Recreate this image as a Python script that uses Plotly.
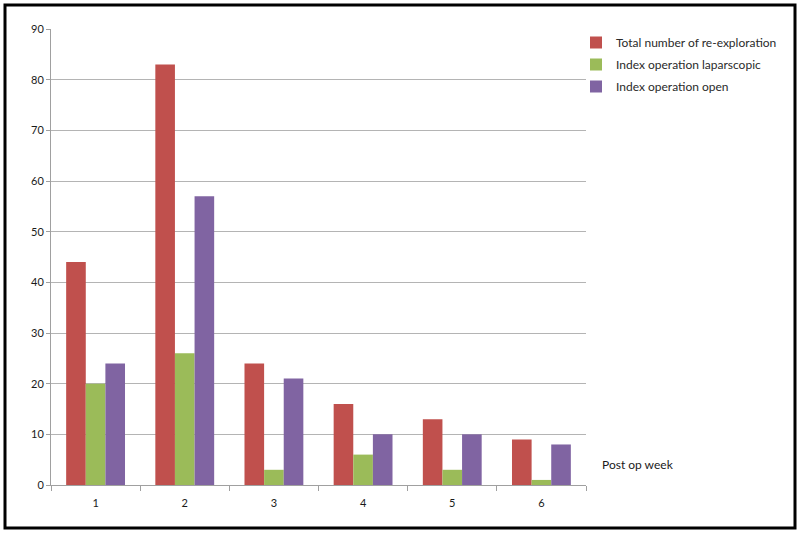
import plotly.graph_objects as go

weeks = ["1", "2", "3", "4", "5", "6"]
total = [44, 83, 24, 16, 13, 9]
laparoscopic = [20, 26, 3, 6, 3, 1]
open_op = [24, 57, 21, 10, 10, 8]
series_names = ["Total number of re-exploration", "Index operation laparscopic", "Index operation open"]
colors = ["#C0504D", "#9BBB59", "#8064A2"]

fig = go.Figure()
for i, (name, vals, col) in enumerate(zip(series_names, [total, laparoscopic, open_op], colors)):
    fig.add_trace(go.Bar(x=weeks, y=vals, name=name, legendgroup=f"g{i}",
                         marker=dict(color=col, line=dict(width=0))))

L, R, T, B = 51, 214, 29, 49
W, H = 800, 534
pw, ph = W - L - R, H - T - B

def px(x):
    return (x - L) / pw

def py(y):
    return (H - B - y) / ph

fig.update_layout(
    width=W, height=H,
    margin=dict(l=L, r=R, t=T, b=B),
    paper_bgcolor="white", plot_bgcolor="white",
    barmode="group", bargap=0.34, bargroupgap=0,
    font=dict(family="Lato, Open Sans, sans-serif", size=11, color="#1a1a1a"),
    legend=dict(x=px(576), y=py(28), xanchor="left", yanchor="top",
                font=dict(size=12, color="#2a2a2a"), traceorder="grouped",
                tracegroupgap=3, itemwidth=30, bgcolor="rgba(0,0,0,0)"),
    xaxis=dict(type="category", showline=True, linecolor="#A0A0A0", linewidth=1,
               ticks="outside", tickson="boundaries", ticklen=5, tickcolor="#A0A0A0",
               ticklabelstandoff=8,
               showgrid=False, tickfont=dict(size=11, color="#1a1a1a")),
    yaxis=dict(range=[0, 90], dtick=10, showline=True, linecolor="#A0A0A0", linewidth=1,
               ticks="outside", ticklen=4, tickcolor="#A0A0A0",
               showgrid=True, gridcolor="#B4B4B4", gridwidth=1, zeroline=False,
               tickfont=dict(size=11, color="#1a1a1a")),
    annotations=[dict(text="Post op week", xref="paper", yref="paper",
                      x=px(600), y=py(464), xanchor="left", yanchor="middle",
                      showarrow=False, font=dict(size=12, color="#1a1a1a"))],
    shapes=[dict(type="rect", xref="paper", yref="paper",
                 x0=px(5), x1=px(795), y0=py(528), y1=py(5),
                 line=dict(color="black", width=3))],
)

fig.write_html("out.html", config={"displayModeBar": False},
               post_script="document.body.style.margin='0';document.body.style.overflow='hidden';")
